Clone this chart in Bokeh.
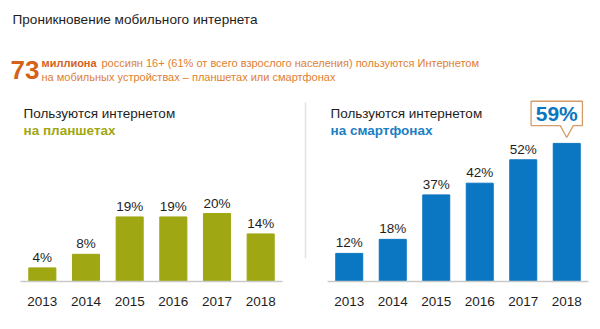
from bokeh.plotting import figure
from bokeh.layouts import column, row
from bokeh.models import Range1d, ColumnDataSource, FixedTicker
from bokeh.core.properties import value
from bokeh.embed import file_html
from bokeh.resources import INLINE

# ---------------- data ----------------
years = ["2013", "2014", "2015", "2016", "2017", "2018"]
tablet_pct = [4, 8, 19, 19, 20, 14]
phone_pct = [12, 18, 37, 42, 52, 59]

title_text = "Проникновение мобильного интернета"
headline_number = "73"
headline_bold = "миллиона"
headline_line1 = "россиян 16+ (61% от всего взрослого населения) пользуются Интернетом"
headline_line2 = "на мобильных устройствах – планшетах или смартфонах"
tablet_head = ["Пользуются интернетом", "на планшетах"]
phone_head = ["Пользуются интернетом", "на смартфонах"]

# ---------------- style ----------------
FONT = "Liberation Sans"
OLIVE = "#9fa712"
BLUE = "#0b76c1"
ORANGE_DARK = "#d4621b"
ORANGE = "#de8033"
CALLOUT = "#d49c66"
DARK = "#1e1e1e"


def blank(fig):
    fig.axis.visible = False
    fig.grid.visible = False
    fig.outline_line_color = None
    fig.background_fill_color = "white"
    fig.border_fill_color = "white"
    return fig


# ---------------- top text block ----------------
top = blank(figure(width=600, height=90, x_range=Range1d(0, 600), y_range=Range1d(90, 0),
                   output_backend="svg", toolbar_location=None, min_border=0))
top.text(x=[12], y=[19], text=[title_text], text_font=value(FONT), text_font_size="13.6px",
         text_color=DARK, text_baseline="middle")
top.text(x=[10], y=[69], text=[headline_number], text_font=value(FONT), text_font_size="26px",
         text_font_style="bold", text_color=ORANGE_DARK, text_baseline="middle")
top.text(x=[41], y=[62], text=[headline_bold], text_font=value(FONT), text_font_size="11px",
         text_font_style="bold", text_color=ORANGE_DARK, text_baseline="middle")
top.text(x=[101], y=[62], text=[headline_line1], text_font=value(FONT), text_font_size="11px",
         text_color=ORANGE, text_baseline="middle")
top.text(x=[41], y=[76], text=[headline_line2], text_font=value(FONT), text_font_size="11px",
         text_color=ORANGE, text_baseline="middle")

positions = [i + 0.5 for i in range(len(years))]


# ---------------- bar panels ----------------
def panel(width, left, right, values, ymax, color, head, head_color, label_count):
    fh = 191
    fw = width - left - right
    p = figure(width=width, height=239, x_range=Range1d(0, len(years)),
               y_range=Range1d(0, ymax), output_backend="svg", toolbar_location=None,
               min_border_left=left, min_border_right=right, min_border_top=0,
               min_border_bottom=239 - fh)
    p.grid.visible = False
    p.outline_line_color = None
    p.yaxis.visible = False
    p.background_fill_color = "white"
    p.border_fill_color = "white"
    p.xaxis.ticker = FixedTicker(ticks=positions)
    p.xaxis.major_label_overrides = {pos: yr for pos, yr in zip(positions, years)}
    p.xaxis.axis_line_color = "#c9c9c9"
    p.xaxis.axis_line_width = 1.5
    p.xaxis.major_tick_line_color = None
    p.xaxis.minor_tick_line_color = None
    p.xaxis.major_label_standoff = 9
    p.xaxis.major_label_text_font = FONT
    p.xaxis.major_label_text_font_size = "13.5px"
    p.xaxis.major_label_text_color = DARK

    p.extra_x_ranges = {"px": Range1d(0, fw)}
    p.extra_y_ranges = {"px": Range1d(fh, 0)}

    src = ColumnDataSource(dict(x=positions, pct=values))
    p.vbar(x="x", top="pct", width=0.62, color=color, source=src)

    lsrc = ColumnDataSource(dict(x=positions[:label_count], pct=values[:label_count],
                                 lab=[f"{v}%" for v in values[:label_count]]))
    p.text(x="x", y="pct", text="lab", source=lsrc, text_font=value(FONT),
           text_font_size="13.5px", text_color=DARK, text_align="center",
           text_baseline="bottom", y_offset=-3)

    p.text(x=[3], y=[23], text=[head[0]], x_range_name="px", y_range_name="px",
           text_font=value(FONT), text_font_size="13.5px", text_color=DARK,
           text_baseline="middle")
    p.text(x=[3], y=[40], text=[head[1]], x_range_name="px", y_range_name="px",
           text_font=value(FONT), text_font_size="13.5px", text_font_style="bold",
           text_color=head_color, text_baseline="middle")
    return p


left = panel(300, 20, 18, tablet_pct, 56.2, OLIVE, tablet_head, OLIVE, len(years))
right = panel(290, 17, 12, phone_pct, 81.6, BLUE, phone_head, "#1a80c4", len(years) - 1)

# callout for the last smartphone value
last = len(years) - 1
v = phone_pct[last]
xc = positions[last]
x0, x1 = xc - 0.82, xc + 0.36
ytop, ybot, ytip = v + 18.0, v + 7.6, v + 2.5
right.patch(x=[x0, x1, x1, xc + 0.15, xc, xc - 0.15, x0],
            y=[ytop, ytop, ybot, ybot, ytip, ybot, ybot],
            fill_color="white", line_color=CALLOUT, line_width=1.3)
right.text(x=[(x0 + x1) / 2], y=[(ytop + ybot) / 2], text=[f"{v}%"],
           text_font=value(FONT), text_font_size="21px", text_font_style="bold",
           text_color=BLUE, text_align="center", text_baseline="middle")

# separator between panels
sep = blank(figure(width=10, height=239, x_range=Range1d(0, 10), y_range=Range1d(239, 0),
                   output_backend="svg", toolbar_location=None, min_border=0))
sep.segment(x0=[5], y0=[15], x1=[5], y1=[210], line_color="#e2e2e2", line_width=1.5)

layout = column(top, row(left, sep, right, spacing=0), spacing=0)

open("out.html", "w").write(file_html(layout, INLINE))
